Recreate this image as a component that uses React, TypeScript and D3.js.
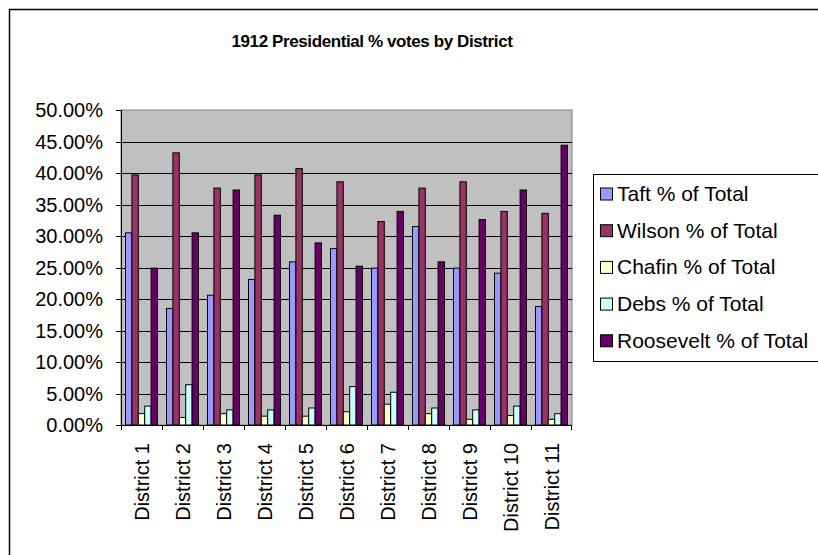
import React from "react";
import * as d3 from "d3";

const categories = ["District 1","District 2","District 3","District 4","District 5","District 6","District 7","District 8","District 9","District 10","District 11"];
const seriesNames = ["Taft % of Total","Wilson % of Total","Chafin % of Total","Debs % of Total","Roosevelt % of Total"];
const taft = [30.5, 18.5, 20.6, 23.1, 25.9, 28.0, 24.9, 31.5, 24.9, 24.1, 18.8];
const wilson = [39.7, 43.2, 37.6, 39.7, 40.7, 38.6, 32.3, 37.6, 38.6, 33.9, 33.6];
const chafin = [1.8, 1.2, 1.8, 1.4, 1.4, 2.1, 3.3, 1.8, 0.9, 1.5, 0.9];
const debs = [3.0, 6.4, 2.4, 2.4, 2.7, 6.1, 5.2, 2.7, 2.4, 3.0, 1.8];
const roosevelt = [24.9, 30.5, 37.3, 33.3, 28.9, 25.2, 33.9, 25.9, 32.6, 37.3, 44.4];
const yTicks = [0, 5, 10, 15, 20, 25, 30, 35, 40, 45, 50];
const colors = ["#9999FF", "#993366", "#FFFFCC", "#CCFFFF", "#660066"];

const seriesValues = [taft, wilson, chafin, debs, roosevelt];

export default function App() {
  const W = 818, H = 555;
  const left = 121, right = 572, top = 110, bottom = 425;
  const x = d3.scaleBand<string>().domain(categories).range([left, right]).paddingInner(0).paddingOuter(0);
  const y = d3.scaleLinear().domain([0, 50]).range([bottom, top]);
  const bw = 6.4;
  const groupW = bw * 5;
  const font = "'Liberation Sans', Arial, sans-serif";
  return (
    <svg width={W} height={H} style={{ position: "absolute", left: 0, top: 0 }} fontFamily={font}>
      <rect x={0} y={0} width={W} height={H} fill="#fff" />
      <rect x={9.5} y={9.5} width={W + 20} height={H + 20} fill="none" stroke="#000" strokeWidth={1.5} />
      <text x={372} y={47} textAnchor="middle" fontSize={17} fontWeight="bold" letterSpacing={-0.4}>1912 Presidential % votes by District</text>
      <rect x={left} y={top} width={right - left} height={bottom - top} fill="#C0C0C0" stroke="#808080" strokeWidth={1} />
      {yTicks.map((t) => (
        <g key={t}>
          {t > 0 && t < 50 && <line x1={left} x2={right} y1={Math.round(y(t)) + 0.5} y2={Math.round(y(t)) + 0.5} stroke="#000" strokeWidth={1} />}
          <line x1={left - 5} x2={left} y1={Math.round(y(t)) + 0.5} y2={Math.round(y(t)) + 0.5} stroke="#000" strokeWidth={1} />
          <text x={103} y={y(t) + 7} textAnchor="end" fontSize={20}>{t.toFixed(2)}%</text>
        </g>
      ))}
      {categories.map((c, i) =>
        seriesValues.map((vals, s) => {
          const x0 = (x(c) as number) + (x.bandwidth() - groupW) / 2 + s * bw;
          return (
            <rect key={c + s} x={x0} y={y(vals[i])} width={bw} height={bottom - y(vals[i])} fill={colors[s]} stroke="#000" strokeWidth={1} />
          );
        })
      )}
      <line x1={left + 0.5} x2={left + 0.5} y1={top} y2={bottom} stroke="#000" strokeWidth={1} />
      <line x1={left} x2={right} y1={bottom + 0.5} y2={bottom + 0.5} stroke="#000" strokeWidth={1} />
      {categories.map((c, i) => (
        <line key={"t" + i} x1={Math.round(x(c) as number) + 0.5} x2={Math.round(x(c) as number) + 0.5} y1={bottom} y2={bottom + 5} stroke="#000" />
      ))}
      <line x1={right - 0.5} x2={right - 0.5} y1={bottom} y2={bottom + 5} stroke="#000" />
      {categories.map((c) => {
        const cx = (x(c) as number) + x.bandwidth() / 2 + 7;
        return (
          <text key={"l" + c} transform={`translate(${cx},443) rotate(-90)`} textAnchor="end" fontSize={20}>{c}</text>
        );
      })}
      <rect x={593.5} y={174.5} width={260} height={187} fill="#fff" stroke="#000" strokeWidth={1} />
      {seriesNames.map((n, s) => {
        const cy = 194 + s * 36.7;
        return (
          <g key={n}>
            <rect x={600.5} y={cy - 6} width={12} height={12} fill={colors[s]} stroke="#000" strokeWidth={1} />
            <text x={617} y={cy + 7} fontSize={21}>{n}</text>
          </g>
        );
      })}
    </svg>
  );
}
